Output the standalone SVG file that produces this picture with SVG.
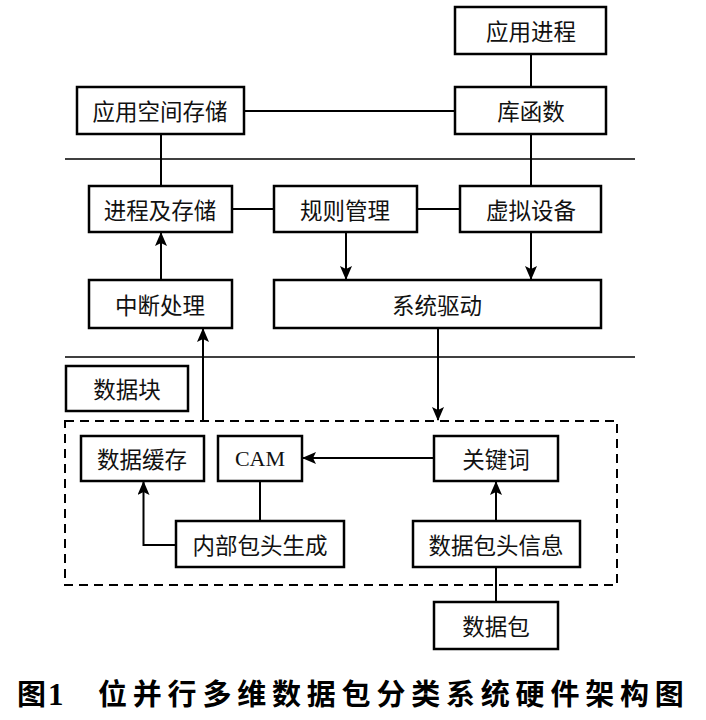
<svg xmlns="http://www.w3.org/2000/svg" width="706" height="720" viewBox="0 0 706 720">
<style>
.box{fill:#fff;stroke:#000;stroke-width:2.5}
.t{font-family:"Noto Sans CJK SC",sans-serif;font-size:22.5px;fill:#111;text-anchor:middle;dominant-baseline:central;font-weight:400}
.tl{font-family:"Liberation Serif",serif;font-size:22px;fill:#111;text-anchor:middle;dominant-baseline:central}
.c{fill:none;stroke:#000;stroke-width:2}
.sep{stroke:#000;stroke-width:1.6}
.dash{fill:none;stroke:#000;stroke-width:2;stroke-dasharray:9,6}
.cap{font-family:"Noto Sans CJK SC",sans-serif;font-size:29px;font-weight:700;fill:#000}
.capn{font-family:"Liberation Serif",serif;font-size:31px;font-weight:700;fill:#000}
</style>
<defs>
<marker id="ah" viewBox="0 0 14 12" refX="13" refY="6" markerWidth="14" markerHeight="12" markerUnits="userSpaceOnUse" orient="auto">
<path d="M0,0 L14,6 L0,12 L3,6 Z" fill="#000"/>
</marker>
</defs>
<rect width="706" height="720" fill="#fff"/>
<g id="separators">
<line class="sep" x1="65" y1="159" x2="635" y2="159"/>
<line class="sep" x1="65" y1="357" x2="635" y2="357"/>
<rect id="dashed-region" class="dash" x="65" y="421" width="552" height="164"/>
</g>
<g id="connectors">
<line class="c" x1="531" y1="54" x2="531" y2="87"/>
<line class="c" x1="244" y1="111" x2="455" y2="111"/>
<line class="c" x1="161" y1="134" x2="161" y2="186"/>
<line class="c" x1="531" y1="134" x2="531" y2="186"/>
<line class="c" x1="232" y1="209" x2="274" y2="209"/>
<line class="c" x1="417" y1="209" x2="460" y2="209"/>
<line class="c" x1="346" y1="232" x2="346" y2="279" marker-end="url(#ah)"/>
<line class="c" x1="531" y1="232" x2="531" y2="279" marker-end="url(#ah)"/>
<line class="c" x1="161" y1="280" x2="161" y2="233" marker-end="url(#ah)"/>
<polyline class="c" points="203,421 203,329" marker-end="url(#ah)"/>
<line class="c" x1="438" y1="328" x2="438" y2="420" marker-end="url(#ah)"/>
<line class="c" x1="434" y1="458" x2="303" y2="458" marker-end="url(#ah)"/>
<line class="c" x1="260" y1="481" x2="260" y2="521"/>
<polyline class="c" points="176,545 143.5,545 143.5,482" marker-end="url(#ah)"/>
<line class="c" x1="496" y1="521" x2="496" y2="482" marker-end="url(#ah)"/>
<line class="c" x1="496" y1="567" x2="496" y2="602"/>
</g>
<g id="n-app-process"><rect class="box" x="455" y="7" width="151" height="47"/><text class="t" x="531" y="30">应用进程</text></g>
<g id="n-app-storage"><rect class="box" x="77" y="87" width="167" height="47"/><text class="t" x="160" y="110">应用空间存储</text></g>
<g id="n-lib"><rect class="box" x="455" y="87" width="151" height="47"/><text class="t" x="531" y="110">库函数</text></g>
<g id="n-proc-storage"><rect class="box" x="89" y="186" width="143" height="46"/><text class="t" x="160" y="209">进程及存储</text></g>
<g id="n-rule"><rect class="box" x="274" y="186" width="143" height="46"/><text class="t" x="345" y="209">规则管理</text></g>
<g id="n-vdev"><rect class="box" x="460" y="186" width="141" height="46"/><text class="t" x="531" y="209">虚拟设备</text></g>
<g id="n-irq"><rect class="box" x="89" y="280" width="143" height="48"/><text class="t" x="160" y="304">中断处理</text></g>
<g id="n-driver"><rect class="box" x="274" y="280" width="327" height="48"/><text class="t" x="437" y="304">系统驱动</text></g>
<g id="n-block"><rect class="box" x="66" y="366" width="122" height="45"/><text class="t" x="127" y="388">数据块</text></g>
<g id="n-cache"><rect class="box" x="81" y="436" width="123" height="45"/><text class="t" x="142" y="458">数据缓存</text></g>
<g id="n-cam"><rect class="box" x="218" y="436" width="84" height="45"/><text class="tl" x="260" y="458">CAM</text></g>
<g id="n-key"><rect class="box" x="434" y="436" width="124" height="45"/><text class="t" x="496" y="458">关键词</text></g>
<g id="n-inner-header"><rect class="box" x="176" y="521" width="168" height="46"/><text class="t" x="260" y="544">内部包头生成</text></g>
<g id="n-header-info"><rect class="box" x="413" y="521" width="167" height="46"/><text class="t" x="496" y="544">数据包头信息</text></g>
<g id="n-packet"><rect class="box" x="434" y="602" width="124" height="47"/><text class="t" x="496" y="625">数据包</text></g>
<g id="caption"><text class="cap" x="17" y="705">图<tspan class="capn" dx="2">1</tspan></text><text class="cap" x="98" y="705" letter-spacing="5.8">位并行多维数据包分类系统硬件架构图</text></g>
</svg>
